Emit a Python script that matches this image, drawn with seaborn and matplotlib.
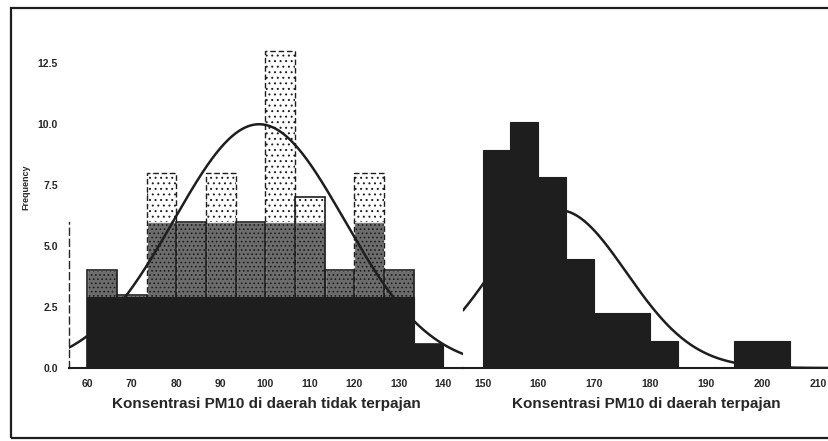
import numpy as np
import pandas as pd
import matplotlib
matplotlib.use("Agg")
import matplotlib.pyplot as plt
from matplotlib.patches import Rectangle
import seaborn as sns

sns.set_style("white")
plt.rcParams["font.family"] = ["Liberation Sans", "DejaVu Sans"]
plt.rcParams["hatch.linewidth"] = 0.7

# PM10 concentration histograms (frequency counts per bin)
edges_tidak = [60 + k * 20 / 3 for k in range(13)]
counts_tidak = [4, 3, 8, 6, 8, 6, 13, 7, 4, 8, 4, 1]
ticks_tidak = [60, 70, 80, 90, 100, 110, 120, 130, 140]
yticks_tidak = [0.0, 2.5, 5.0, 7.5, 10.0, 12.5]
label_tidak = "Konsentrasi PM10 di daerah tidak terpajan"

edges_terpajan = [150, 155, 160, 165, 170, 175, 180, 185, 190, 195, 200, 205]
counts_terpajan = [8, 9, 7, 4, 2, 2, 1, 0, 0, 1, 1]
ticks_terpajan = [150, 160, 170, 180, 190, 200, 210]
yticks_terpajan = [0.0, 2.5, 5.0, 7.5, 10.0, 12.5]
label_terpajan = "Konsentrasi PM10 di daerah terpajan"

INK = "#1e1e1e"
W, H = 829, 441
fig = plt.figure(figsize=(W / 100, H / 100), dpi=100)


def px_axes(x0, x1, y_top, y_bot):
    return fig.add_axes([x0 / W, 1 - y_bot / H, (x1 - x0) / W, (y_bot - y_top) / H])


def bar_layer(ax, edges, centers, weights, **kws):
    df = pd.DataFrame({"value": centers, "count": weights})
    sns.histplot(data=df, x="value", weights="count", bins=list(edges), ax=ax,
                 stat="count", **kws)


def draw_hist(ax, edges, counts, shaded):
    edges = np.asarray(edges, dtype=float)
    counts = np.asarray(counts, dtype=float)
    centers = (edges[:-1] + edges[1:]) / 2
    if shaded:
        # sparse stipple over the full bar
        bar_layer(ax, edges, centers, counts, facecolor="none", edgecolor=INK,
                  linewidth=0, hatch="...", zorder=2)
        # denser stipple in the lower part, with pale gaps between bars
        mid = np.minimum(counts, 6)
        bar_layer(ax, edges, centers, mid, facecolor="#6c6c6c", edgecolor=INK,
                  linewidth=0, hatch="....", alpha=1, zorder=2.1)
        bar_layer(ax, edges, centers, mid, facecolor="none", edgecolor="#e8e8e8",
                  linewidth=0.9, zorder=2.2)
        # outlines: solid for the shorter bars, dashed for the tall ones
        bar_layer(ax, edges, centers, np.where(counts <= 7, counts, 0),
                  facecolor="none", edgecolor=INK, linewidth=1.2, zorder=2.5)
        bar_layer(ax, edges, centers, np.where(counts > 7, counts, 0),
                  facecolor="none", edgecolor=INK, linewidth=1.0,
                  linestyle=(0, (4, 2)), zorder=2.5)
        # solid base
        bar_layer(ax, edges, centers, np.minimum(counts, 2.9),
                  facecolor=INK, edgecolor=INK, linewidth=0.8, alpha=1, zorder=3)
    else:
        bar_layer(ax, edges, centers, counts,
                  facecolor=INK, edgecolor=INK, linewidth=0.8, alpha=1, zorder=3)
    # fitted normal curve from the binned data
    n = counts.sum()
    width = edges[1] - edges[0]
    mean = (centers * counts).sum() / n
    sd = np.sqrt(((centers - mean) ** 2 * counts).sum() / (n - 1))
    xs = np.linspace(*ax.get_xlim(), 400)
    ys = n * width * np.exp(-0.5 * ((xs - mean) / sd) ** 2) / (sd * np.sqrt(2 * np.pi))
    ax.plot(xs, ys, color=INK, lw=1.8, zorder=4)


# left chart: not exposed area
ax1 = px_axes(69, 463, 20, 368)
ax1.set_xlim(55.9, 144.4)
ax1.set_ylim(0, 348 / 24.4)
draw_hist(ax1, edges_tidak, counts_tidak, shaded=True)
ax1.set_xlim(55.9, 144.4)
ax1.set_ylim(0, 348 / 24.4)
ax1.set_xticks(ticks_tidak)
ax1.set_xticklabels([str(t) for t in ticks_tidak], fontsize=7.5, fontweight="bold")
ax1.set_yticks(yticks_tidak)
ax1.set_yticklabels([f"{t:.1f}" for t in yticks_tidak], fontsize=7.5, fontweight="bold")
ax1.tick_params(axis="both", direction="out", length=4, width=1.2, color=INK, pad=4)
for s in ["top", "right"]:
    ax1.spines[s].set_visible(False)
ax1.spines["left"].set_bounds(0, 6)
ax1.spines["left"].set_linestyle((0, (5, 3)))
ax1.spines["left"].set_linewidth(1.0)
ax1.spines["bottom"].set_linewidth(1.5)
ax1.spines["bottom"].set_color(INK)
ax1.set_xlabel(label_tidak, fontsize=11, fontweight="bold", labelpad=6)
ax1.set_ylabel("Frequency", fontsize=6.5, fontweight="bold")
ax1.yaxis.set_label_coords(-0.097, 0.52)

# right chart: exposed area
ax2 = px_axes(463, 829, 20, 368)
ax2.set_xlim(146.5, 212.0)
ax2.set_ylim(0, 348 / 27.3)
draw_hist(ax2, edges_terpajan, counts_terpajan, shaded=False)
ax2.set_xlim(146.5, 212.0)
ax2.set_ylim(0, 348 / 27.3)
ax2.set_xticks(ticks_terpajan)
ax2.set_xticklabels([str(t) for t in ticks_terpajan], fontsize=7.5, fontweight="bold")
ax2.set_yticks(yticks_terpajan)
ax2.set_yticklabels([])
ax2.tick_params(axis="x", direction="out", length=4, width=1.2, color=INK, pad=4)
ax2.tick_params(axis="y", direction="out", length=2, width=1.5, color=INK)
for s in ["top", "right", "left"]:
    ax2.spines[s].set_visible(False)
ax2.spines["bottom"].set_linewidth(1.5)
ax2.spines["bottom"].set_color(INK)
ax2.set_xlabel(label_terpajan, fontsize=11, fontweight="bold", labelpad=6)
ax2.set_ylabel("")

for ax in (ax1, ax2):
    ax.set_facecolor("none")
    ax.grid(False)

# surrounding border
fig.patches.append(Rectangle((11 / W, 1 - 438 / H), 1.0, (438 - 8) / H,
                             transform=fig.transFigure, fill=False,
                             edgecolor=INK, linewidth=1.6))

fig.savefig("out.png", dpi=100, facecolor="white")
